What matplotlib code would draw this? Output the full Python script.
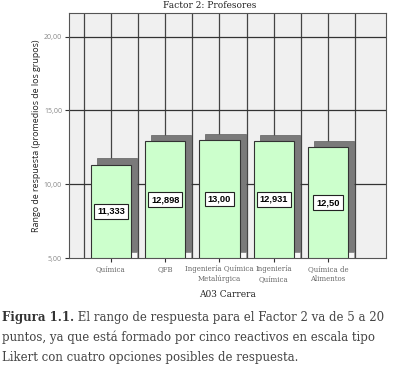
import matplotlib.pyplot as plt
from matplotlib.patches import Rectangle

carreras = ["Química", "QFB", "Ingeniería Química\nMetalúrgica", "Ingeniería\nQuímica", "Química de\nAlimentos"]
medias = [11.333, 12.898, 13.00, 12.931, 12.50]
etiquetas = ["11,333", "12,898", "13,00", "12,931", "12,50"]
yticks = [5, 10, 15, 20]
ytick_labels = ["5,00", "10,00", "15,00", "20,00"]

serif = "DejaVu Serif"
sans = "Open Sans"
fig = plt.figure(figsize=(3.98, 3.67), dpi=100)
ax = fig.add_axes([69/398, 1-258/367, (386-69)/398, (258-13)/367])
ax.set_facecolor("#f0f0f0")
ax.set_xlim(-0.774, 5.069)
ax.set_ylim(5, 21.6)

# rejilla
for g in [-0.5, 0, 0.5, 1, 1.5, 2, 2.5, 3, 3.5, 4, 4.5]:
    ax.axvline(g, color="#444444", lw=0.9, zorder=1)
for g in [10, 15, 20]:
    ax.axhline(g, color="#333333", lw=0.9, zorder=1)

w = 0.74
dx = 0.11
dy = 0.41
for i, m in enumerate(medias):
    # sombra
    ax.add_patch(Rectangle((i - w/2 + dx, 5 + dy), w, m - 5, facecolor="#7a7a7a", edgecolor="#606060", lw=0.5, zorder=2))
    ax.add_patch(Rectangle((i + w/2, 5), dx, dy, facecolor="#f8f8f8", edgecolor="#808080", lw=0.5, zorder=2))
    ax.bar(i, m - 5, bottom=5, width=w, color="#ccffcc", edgecolor="#333333", lw=0.8, zorder=3)
    ax.text(i, 5 + (m - 5)/2, etiquetas[i], ha="center", va="center", fontsize=6.7, fontweight="bold",
            family="Liberation Sans", zorder=4,
            bbox=dict(boxstyle="square,pad=0.3", facecolor="white", edgecolor="#222222", lw=0.8))

ax.set_xticks(range(len(carreras)))
ax.set_xticklabels(carreras, fontsize=5, color="#666666", family=serif, linespacing=1.3)
ax.set_yticks(yticks)
ax.set_yticklabels(ytick_labels, fontsize=5, color="#888888", family=sans)
ax.tick_params(axis="both", length=3, width=0.8, color="#333333", pad=2)
for s in ax.spines.values():
    s.set_color("#555555")
    s.set_linewidth(0.8)

ax.set_ylabel("Rango de respuesta (promedios de los grupos)", fontsize=6.4, family=sans, labelpad=2, color="#222222")
ax.set_xlabel("A03 Carrera", fontsize=6.5, family=serif, labelpad=5, color="#222222")
fig.text(210/398, 1-6/367, "Factor 2: Profesores", fontsize=6.5, family=serif, ha="center", va="center", color="#222222")

t = fig.text(0.005, 1-318/367, "Figura 1.1.", fontsize=8.45, family=serif, fontweight="bold", va="center", color="#333333")
ax.annotate(" El rango de respuesta para el Factor 2 va de 5 a 20", xy=(1, 0.5), xycoords=t,
            fontsize=8.45, family=serif, va="center", color="#444444", annotation_clip=False)
fig.text(0.005, 1-337.5/367, "puntos, ya que está formado por cinco reactivos en escala tipo",
         fontsize=8.45, family=serif, va="center", color="#444444")
fig.text(0.005, 1-357/367, "Likert con cuatro opciones posibles de respuesta.",
         fontsize=8.45, family=serif, va="center", color="#444444")

fig.savefig("out.png", dpi=100)
